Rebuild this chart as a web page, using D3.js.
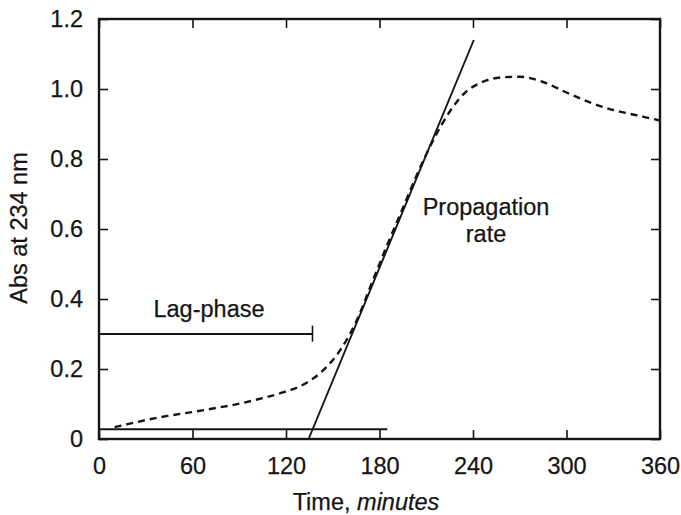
<!DOCTYPE html>
<html>
<head>
<meta charset="utf-8">
<script src="https://cdn.jsdelivr.net/npm/d3@7/dist/d3.min.js"></script>
<style>
  html, body { margin: 0; padding: 0; background: #fff; }
  svg { display: block; }
  text { font-family: "Liberation Sans", Arial, Helvetica, sans-serif; fill: #151515; stroke: #151515; stroke-width: 0.25px; }
</style>
</head>
<body>
<svg id="chart" width="681" height="515"></svg>
<script>
// ---- data ----
const xTicks = [0, 60, 120, 180, 240, 300, 360];
const yTicks = [0, 0.2, 0.4, 0.6, 0.8, 1.0, 1.2];
const yTickLabels = ["0", "0.2", "0.4", "0.6", "0.8", "1.0", "1.2"];

// dashed absorbance curve (time in minutes, absorbance)
const curveTime = [10, 19, 30, 44, 60, 73, 88, 105, 118, 133, 141, 148, 156, 165, 175, 185, 195, 205, 215, 225, 235, 245, 258, 270, 285, 300, 315, 330, 345, 360];
const curveAbs  = [0.034, 0.043, 0.054, 0.066, 0.077, 0.087, 0.099, 0.117, 0.133, 0.16, 0.185, 0.215, 0.262, 0.335, 0.445, 0.555, 0.66, 0.765, 0.858, 0.935, 0.99, 1.018, 1.033, 1.035, 1.02, 0.99, 0.962, 0.94, 0.925, 0.91];

// tangent (propagation rate) line endpoints
const tangentTime = [134.5, 240.5];
const tangentAbs  = [0, 1.14];

// baseline and lag-phase markers
const baselineTime = [0, 185];
const baselineAbs = [0.028, 0.028];
const lagTime = [0, 137];
const lagAbs = [0.3, 0.3];
const lagCapAbs = [0.278, 0.324];

// ---- layout ----
const svg = d3.select("#chart");
const mLeft = 99, mRight = 660, mTop = 19, mBottom = 439;
const x = d3.scaleLinear().domain([0, 360]).range([mLeft, mRight]);
const y = d3.scaleLinear().domain([0, 1.2]).range([mBottom, mTop]);
const FS = 23.5;
const ink = "#151515";

// axes with inward ticks
const gx = svg.append("g").attr("transform", `translate(0,${mBottom})`)
  .call(d3.axisBottom(x).tickValues(xTicks).tickSizeInner(-9).tickSizeOuter(0).tickPadding(18).tickFormat(d3.format("d")));
const gy = svg.append("g").attr("transform", `translate(${mLeft},0)`)
  .call(d3.axisLeft(y).tickValues(yTicks).tickSizeInner(-9).tickSizeOuter(0).tickPadding(16)
    .tickFormat((d, i) => yTickLabels[i]));
const gt = svg.append("g").attr("transform", `translate(0,${mTop})`)
  .call(d3.axisTop(x).tickValues(xTicks).tickSizeInner(-9).tickSizeOuter(0).tickFormat(""));
const gr = svg.append("g").attr("transform", `translate(${mRight},0)`)
  .call(d3.axisRight(y).tickValues(yTicks).tickSizeInner(-9).tickSizeOuter(0).tickFormat(""));

[gx, gy, gt, gr].forEach(g => {
  g.select(".domain").remove();
  g.selectAll(".tick line").attr("stroke", ink).attr("stroke-width", 1.6);
  g.selectAll(".tick text").attr("font-size", FS).attr("fill", ink)
    .style("font-family", '"Liberation Sans", Arial, sans-serif');
});

// frame
svg.append("rect")
  .attr("x", x(0)).attr("y", y(1.2))
  .attr("width", x(360) - x(0)).attr("height", y(0) - y(1.2))
  .attr("fill", "none").attr("stroke", ink).attr("stroke-width", 2.4);

// baseline
const line = d3.line().x(d => x(d[0])).y(d => y(d[1]));
svg.append("path")
  .attr("d", line(baselineTime.map((t, i) => [t, baselineAbs[i]])))
  .attr("stroke", ink).attr("stroke-width", 2).attr("fill", "none");

// lag-phase bar with end cap
svg.append("path")
  .attr("d", line(lagTime.map((t, i) => [t, lagAbs[i]])))
  .attr("stroke", ink).attr("stroke-width", 2).attr("fill", "none");
svg.append("path")
  .attr("d", line([[lagTime[1], lagCapAbs[0]], [lagTime[1], lagCapAbs[1]]]))
  .attr("stroke", ink).attr("stroke-width", 1.6).attr("fill", "none");

// tangent line
svg.append("path")
  .attr("d", line(tangentTime.map((t, i) => [t, tangentAbs[i]])))
  .attr("stroke", ink).attr("stroke-width", 1.9).attr("fill", "none");

// dashed curve
const curveLine = d3.line().x(d => x(d[0])).y(d => y(d[1])).curve(d3.curveMonotoneX);
svg.append("path")
  .attr("d", curveLine(curveTime.map((t, i) => [t, curveAbs[i]])))
  .attr("stroke", ink).attr("stroke-width", 2.4).attr("fill", "none")
  .attr("stroke-dasharray", "7,5");

// annotations
svg.append("text").attr("x", 209).attr("y", 317).attr("text-anchor", "middle")
  .attr("font-size", FS).text("Lag-phase");
svg.append("text").attr("x", 486).attr("y", 215).attr("text-anchor", "middle")
  .attr("font-size", FS).text("Propagation");
svg.append("text").attr("x", 486).attr("y", 242).attr("text-anchor", "middle")
  .attr("font-size", FS).text("rate");

// axis titles
const xt = svg.append("text").attr("x", 366).attr("y", 510).attr("text-anchor", "middle")
  .attr("font-size", FS);
xt.append("tspan").text("Time, ");
xt.append("tspan").attr("font-style", "italic").text("minutes");

svg.append("text")
  .attr("transform", `translate(27,228) rotate(-90)`)
  .attr("text-anchor", "middle").attr("font-size", FS).text("Abs at 234 nm");
</script>
</body>
</html>
